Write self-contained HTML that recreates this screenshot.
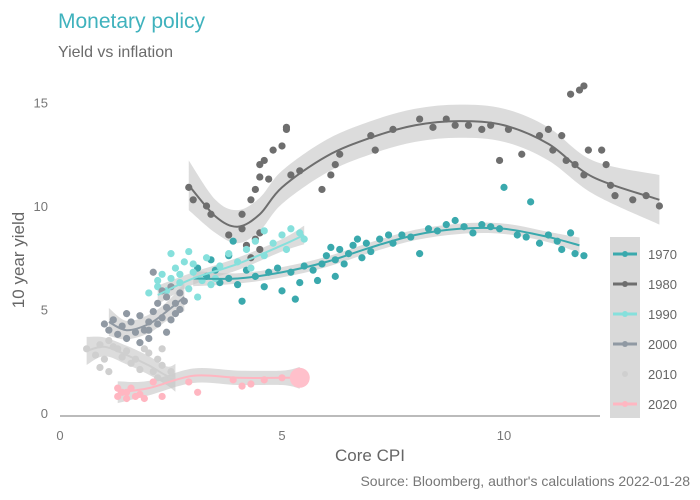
<!DOCTYPE html>
<html><head><meta charset="utf-8"><style>
body{margin:0;background:#fff}
svg{display:block;font-family:"Liberation Sans",Arial,sans-serif}
</style></head><body>
<svg id="chart" width="700" height="500" viewBox="0 0 700 500">
<text x="58" y="28" font-size="21" fill="#3fb2bd">Monetary policy</text>
<text x="58" y="57" font-size="16" fill="#6b6b6b">Yield vs inflation</text>
<g id="bands"></g>
<g id="points"></g>
<g id="lines"></g>
<line x1="60" y1="416" x2="600" y2="416" stroke="#777" stroke-width="1"/>
<g id="ticks" font-size="13" fill="#777"></g>
<text x="370" y="461" font-size="17" fill="#666" text-anchor="middle">Core CPI</text>
<text transform="translate(24,260) rotate(-90)" font-size="17" fill="#666" text-anchor="middle">10 year yield</text>
<text x="690" y="486" font-size="14" fill="#777" text-anchor="end">Source: Bloomberg, author's calculations 2022-01-28</text>
<rect x="610" y="237" width="30" height="181" fill="#d9d9d9"/>
<g id="legend" font-size="13" fill="#666"></g>
</svg>
<script>
const xTicks=[0,5,10];
const yTicks=[0,5,10,15];
const decades=["1970","1980","1990","2000","2010","2020"];
const colors=["#3aa9ad","#6e6e6e","#86e0dc","#9099a3","#cfcfcf","#ffb6c1"];
const pts1970=[[3.1,7.0],[3.3,6.6],[3.4,7.4],[3.5,6.9],[3.6,6.3],[3.8,6.5],[4.0,6.2],[4.2,6.9],[4.4,6.6],[4.6,6.1],[4.7,6.8],[4.9,7.0],[5.0,5.9],[5.2,6.8],[5.4,6.3],[5.5,7.1],[5.3,5.5],[5.7,6.9],[5.9,7.2],[6.0,7.6],[6.1,8.0],[6.2,7.4],[6.3,7.9],[6.4,7.2],[6.5,7.7],[6.6,8.1],[6.7,8.4],[6.8,7.5],[6.9,8.2],[7.0,7.8],[7.2,8.4],[7.4,8.6],[7.5,8.2],[7.7,8.6],[7.9,8.5],[8.1,7.7],[8.3,8.9],[8.5,8.8],[8.7,9.1],[8.9,9.3],[9.1,9.0],[9.3,8.7],[9.5,9.1],[9.7,9.0],[9.9,8.9],[10.0,10.9],[10.3,8.6],[10.5,8.5],[10.6,10.2],[10.8,8.2],[11.0,8.6],[11.2,8.3],[11.3,7.9],[11.5,8.7],[11.6,7.7],[11.8,7.6],[4.1,5.4],[6.2,6.6],[5.8,6.4],[3.8,7.6],[3.9,8.3]];
const pts1980=[[2.9,10.9],[3.0,10.3],[3.3,10.0],[3.4,9.6],[3.8,8.6],[4.1,8.9],[4.1,9.6],[4.3,10.3],[4.4,10.8],[4.5,11.4],[4.5,12.0],[4.6,12.2],[4.7,11.3],[4.8,12.7],[5.0,12.9],[5.1,13.7],[5.1,13.8],[5.2,11.5],[5.4,11.7],[5.9,10.8],[6.1,11.5],[6.2,12.0],[6.3,12.5],[7.0,13.4],[7.1,12.7],[7.5,13.7],[8.1,14.2],[8.4,13.8],[8.7,14.2],[8.9,13.9],[9.2,13.9],[9.5,13.7],[9.7,13.9],[9.9,12.2],[10.1,13.7],[10.4,12.5],[10.8,13.4],[11.0,13.7],[11.1,12.7],[11.3,13.4],[11.5,15.4],[11.7,15.6],[11.8,15.8],[11.4,12.2],[11.6,12.0],[11.8,11.5],[11.9,12.7],[12.2,12.7],[12.3,12.0],[12.4,11.0],[12.5,10.5],[12.9,10.3],[13.2,10.5],[13.5,10.0],[4.2,8.1],[4.4,8.4],[4.5,7.9],[4.3,7.5],[4.5,8.7]];
const pts1990=[[2.0,5.8],[2.2,6.1],[2.3,6.7],[2.4,5.9],[2.5,6.5],[2.6,7.0],[2.7,6.3],[2.8,7.3],[2.9,6.0],[3.0,6.8],[3.1,5.6],[3.2,6.4],[3.3,7.5],[2.5,7.7],[2.9,7.8],[3.4,6.2],[3.6,7.1],[3.8,7.7],[4.0,7.3],[4.2,7.9],[4.4,8.3],[4.6,7.6],[4.8,8.2],[5.0,8.6],[5.2,8.9],[5.4,8.7],[5.5,8.4],[3.5,6.5],[3.0,7.2],[2.7,6.7],[2.2,6.4],[4.3,7.0],[4.6,8.8],[5.1,7.9]];
const pts2000=[[1.0,4.3],[1.1,4.0],[1.2,4.5],[1.3,3.8],[1.4,4.2],[1.5,3.6],[1.6,4.4],[1.7,3.9],[1.8,3.4],[1.9,4.0],[2.0,4.4],[2.0,3.6],[2.1,4.9],[2.2,5.3],[2.2,4.3],[2.3,4.6],[2.4,5.6],[2.4,5.1],[2.5,4.5],[2.6,5.3],[2.6,4.8],[2.7,5.8],[2.7,5.0],[2.8,5.4],[2.5,6.1],[2.3,5.9],[1.8,4.7],[1.5,4.8],[2.1,6.8],[2.0,4.0],[2.4,3.9]];
const pts2010=[[0.6,3.1],[0.8,2.8],[0.9,3.3],[1.0,2.6],[1.1,3.5],[1.2,3.2],[1.3,3.1],[1.4,2.7],[1.5,3.0],[1.6,2.4],[1.7,2.6],[1.8,2.1],[1.9,3.1],[2.0,2.9],[2.1,2.0],[2.2,1.7],[2.3,2.3],[2.4,1.6],[2.5,2.0],[2.3,3.1],[2.2,2.6],[0.9,2.2],[1.1,2.0]];
const pts2020=[[1.3,0.8],[1.4,1.0],[1.5,0.7],[1.6,1.2],[1.7,0.8],[1.8,0.9],[1.9,0.7],[2.1,1.5],[2.3,0.8],[2.9,1.5],[3.1,1.0],[3.9,1.6],[4.3,1.4],[4.6,1.6],[5.0,1.7],[4.1,1.3],[1.3,1.2],[1.5,1.0]];
const fit1970=[[3.0,6.5],[4.0,6.5],[5.0,6.8],[6.0,7.3],[7.0,8.0],[8.0,8.6],[9.0,8.9],[10.0,8.9],[11.0,8.5],[11.7,8.1]];
const fit1980=[[2.9,11.0],[3.5,9.5],[4.0,9.0],[4.5,9.6],[5.0,10.9],[6.0,12.4],[7.0,13.3],[8.0,13.9],[9.0,14.1],[10.0,13.9],[11.0,13.0],[12.0,11.4],[13.5,10.3]];
const fit1990=[[2.2,5.7],[3.0,6.5],[4.0,7.2],[5.0,8.1],[5.5,8.6]];
const fit2000=[[1.1,4.4],[1.5,4.0],[2.0,4.3],[2.4,4.9],[2.8,5.6]];
const fit2010=[[0.6,3.0],[1.0,3.2],[1.5,2.8],[2.0,2.3],[2.4,1.8],[2.6,1.7]];
const fit2020=[[1.3,1.0],[2.0,1.2],[3.0,1.8],[4.0,1.7],[5.0,1.7],[5.4,1.7]];
const bandHalf=[0.25,0.8,0.3,0.45,0.45,0.35];
const pts=[pts1970,pts1980,pts1990,pts2000,pts2010,pts2020];
const fits=[fit1970,fit1980,fit1990,fit2000,fit2010,fit2020];
const X=v=>60+44.4*v, Y=v=>413-20.7*v;
const NS="http://www.w3.org/2000/svg";
function mk(t,a,p){const e=document.createElementNS(NS,t);for(const k in a)e.setAttribute(k,a[k]);p.appendChild(e);return e;}
function curve(p){let d="M"+p[0][0]+","+p[0][1];for(let i=0;i<p.length-1;i++){const p0=p[Math.max(0,i-1)],p1=p[i],p2=p[i+1],p3=p[Math.min(p.length-1,i+2)];d+="C"+(p1[0]+(p2[0]-p0[0])/6)+","+(p1[1]+(p2[1]-p0[1])/6)+" "+(p2[0]-(p3[0]-p1[0])/6)+","+(p2[1]-(p3[1]-p1[1])/6)+" "+p2[0]+","+p2[1];}return d;}
const gB=document.getElementById("bands"),gP=document.getElementById("points"),gL=document.getElementById("lines"),gT=document.getElementById("ticks"),gLeg=document.getElementById("legend");
fits.forEach((f,i)=>{
  const n=f.length;
  const w=f.map((q,j)=>bandHalf[i]*((j===0||j===n-1)?1.5:1));
  const up=f.map((q,j)=>[X(q[0]),Y(q[1]+w[j])]);
  const lo=f.map((q,j)=>[X(q[0]),Y(q[1]-w[j])]).reverse();
  const b=mk("path",{d:curve(up)+curve(lo).replace("M","L")+"Z",fill:"#c4c4c4","fill-opacity":0.6},gB);
  
  
});
pts.forEach((s,i)=>s.forEach(p=>{
  const c=mk("circle",{cx:X(p[0]),cy:Y(p[1]),r:3.6,fill:colors[i]},gP);
  
  
}));
fits.forEach((f,i)=>{
  const l=mk("path",{d:curve(f.map(q=>[X(q[0]),Y(q[1])])),fill:"none",stroke:colors[i],"stroke-width":2},gL);
  
  
});
const last=fit2020[fit2020.length-1];
const big=mk("circle",{cx:X(last[0]),cy:Y(last[1]),r:10,fill:"#ffc0cb"},gL);


xTicks.forEach(v=>{const t=mk("text",{x:X(v),y:440,"text-anchor":"middle"},gT);t.textContent=v;
  
  });
yTicks.forEach(v=>{const t=mk("text",{x:48,y:Y(v)+5,"text-anchor":"end"},gT);t.textContent=v;
  
  });
decades.forEach((d,i)=>{const y=254+i*30;
  const g=mk("g",{},gLeg);
  
  
  if(i!==4)mk("line",{x1:613,x2:637,y1:y,y2:y,stroke:colors[i],"stroke-width":3},g);
  mk("circle",{cx:625,cy:y,r:3,fill:colors[i]},g);
  const t=mk("text",{x:648,y:y+5},g);t.textContent=d;});
</script>
</body></html>
